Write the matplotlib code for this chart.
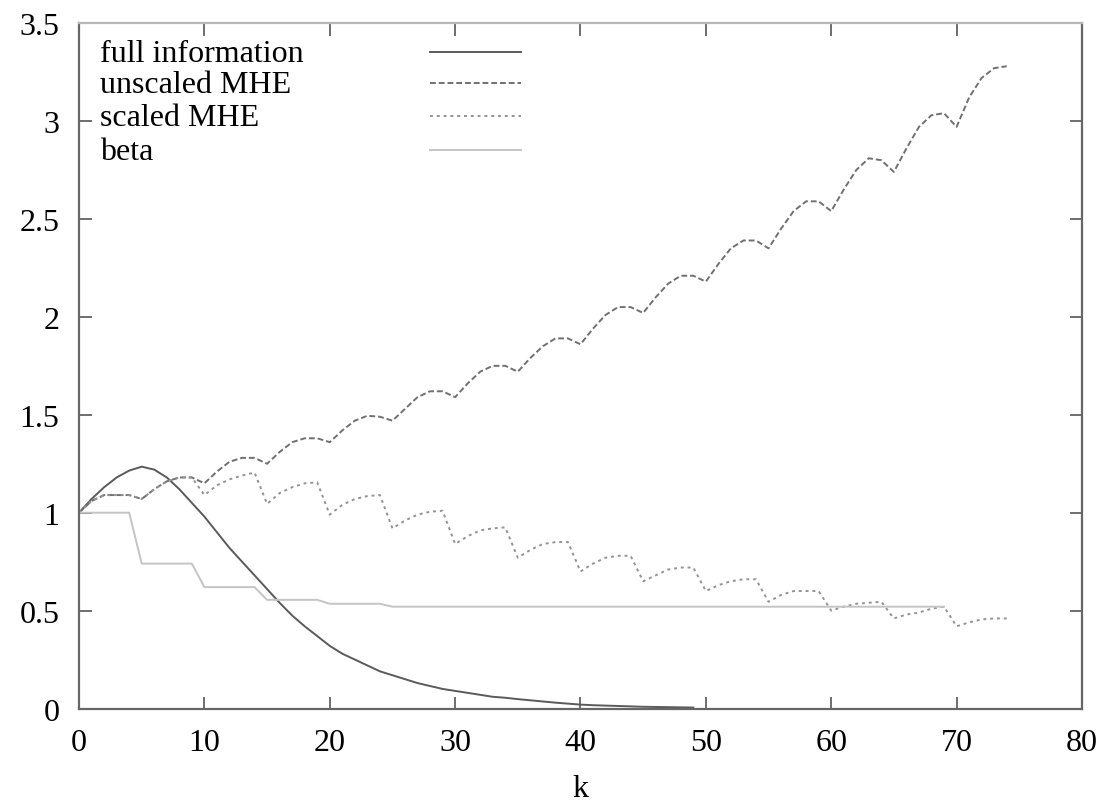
import numpy as np
import matplotlib
matplotlib.use('Agg')
import matplotlib.pyplot as plt

# data
k_full = list(range(0, 50))
full_info = [1.00, 1.07, 1.13, 1.18, 1.215, 1.235, 1.22, 1.18, 1.12, 1.05,
             0.98, 0.90, 0.82, 0.75, 0.68, 0.61, 0.54, 0.475, 0.42, 0.37,
             0.32, 0.28, 0.25, 0.22, 0.19, 0.17, 0.15, 0.13, 0.115, 0.10,
             0.09, 0.08, 0.07, 0.06, 0.055, 0.048, 0.042, 0.036, 0.03, 0.025,
             0.02, 0.017, 0.015, 0.013, 0.011, 0.009, 0.008, 0.007, 0.006, 0.005]

k_mhe = list(range(0, 75))
unscaled = [1.00, 1.06, 1.09, 1.09, 1.09,
            1.07, 1.12, 1.16, 1.18, 1.18,
            1.15, 1.21, 1.26, 1.28, 1.28,
            1.25, 1.31, 1.36, 1.38, 1.38,
            1.36, 1.42, 1.47, 1.495, 1.49,
            1.47, 1.53, 1.59, 1.62, 1.62,
            1.59, 1.66, 1.72, 1.75, 1.75,
            1.72, 1.79, 1.85, 1.89, 1.89,
            1.86, 1.94, 2.01, 2.05, 2.05,
            2.02, 2.10, 2.17, 2.21, 2.21,
            2.18, 2.27, 2.35, 2.39, 2.39,
            2.35, 2.45, 2.54, 2.59, 2.59,
            2.54, 2.65, 2.75, 2.81, 2.80,
            2.74, 2.86, 2.97, 3.03, 3.04,
            2.97, 3.12, 3.22, 3.27, 3.28]
scaled = [1.00, 1.06, 1.09, 1.09, 1.09,
          1.07, 1.12, 1.16, 1.18, 1.18,
          1.09, 1.14, 1.17, 1.19, 1.205,
          1.045, 1.10, 1.13, 1.15, 1.155,
          0.99, 1.04, 1.07, 1.085, 1.09,
          0.92, 0.96, 0.99, 1.005, 1.01,
          0.84, 0.88, 0.91, 0.92, 0.925,
          0.77, 0.81, 0.84, 0.85, 0.85,
          0.70, 0.74, 0.77, 0.78, 0.78,
          0.65, 0.68, 0.71, 0.72, 0.72,
          0.60, 0.63, 0.65, 0.66, 0.66,
          0.545, 0.58, 0.60, 0.60, 0.60,
          0.50, 0.52, 0.535, 0.54, 0.545,
          0.46, 0.48, 0.49, 0.51, 0.52,
          0.42, 0.44, 0.455, 0.46, 0.46]

k_beta = list(range(0, 70))
beta = ([1.0] * 5 + [0.74] * 5 + [0.62] * 5 + [0.555] * 5 + [0.535] * 5
        + [0.52] * 45)

labels = ['full information', 'unscaled MHE', 'scaled MHE', 'beta']
xticks = [0, 10, 20, 30, 40, 50, 60, 70, 80]
yticks = [0, 0.5, 1, 1.5, 2, 2.5, 3, 3.5]

plt.rcParams['font.family'] = ['Liberation Serif', 'DejaVu Serif']
plt.rcParams['font.size'] = 23

fig = plt.figure(figsize=(11.04, 8.04), dpi=100)
ax = fig.add_axes([0.0716, 0.1175, 0.9084, 0.8525])

styles = [
    dict(color='#5a5a5a', lw=1.4, ls='-'),
    dict(color='#707070', lw=1.4, ls=(0, (3, 1.5))),
    dict(color='#939393', lw=1.4, ls=(0, (1.5, 2))),
    dict(color='#c4c4c4', lw=1.4, ls='-'),
]
series = [(k_full, full_info), (k_mhe, unscaled), (k_mhe, scaled), (k_beta, beta)]

for (x, y), st in zip(series, styles):
    ax.plot(x, y, **st)

# gnuplot style key: text on the left, sample on the right
key_y = [0.956, 0.910, 0.863, 0.813]
for lab, st, yy in zip(labels, styles, key_y):
    ax.text(0.021, yy, lab, transform=ax.transAxes, va='center', ha='left')
    ax.plot([0.350, 0.441], [yy + 0.002, yy + 0.002], transform=ax.transAxes, **st)

ax.set_xlim(0, 80)
ax.set_ylim(0, 3.5)
ax.set_xticks(xticks)
ax.set_yticks(yticks)
ax.set_xticklabels([str(v) for v in xticks])
ax.set_yticklabels(['0', '0.5', '1', '1.5', '2', '2.5', '3', '3.5'])
ax.tick_params(direction='in', length=9, width=1.2, top=True, right=True,
               color='#555555', pad=14)
ax.set_xlabel('k', labelpad=12)

for side in ['left', 'right', 'bottom']:
    ax.spines[side].set_color('#666666')
    ax.spines[side].set_linewidth(1.6)
ax.spines['top'].set_color('#b8b8b8')
ax.spines['top'].set_linewidth(1.6)

fig.savefig('out.png', dpi=100)
